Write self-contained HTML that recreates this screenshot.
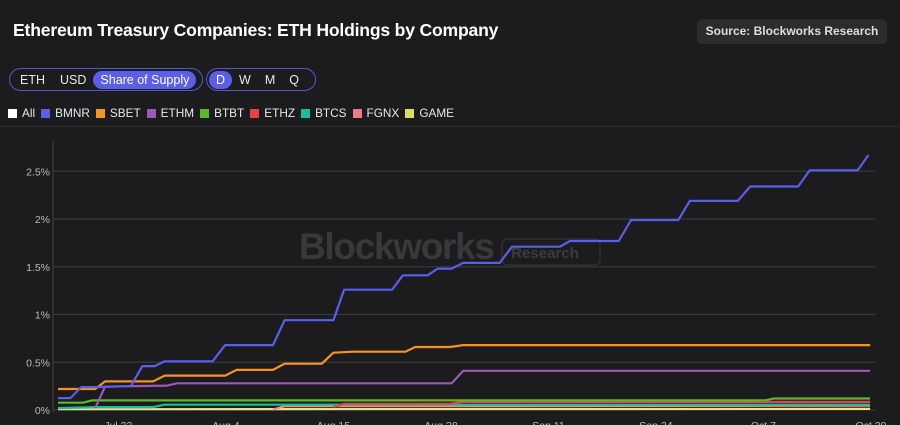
<!DOCTYPE html>
<html><head><meta charset="utf-8"><style>
body{margin:0;width:900px;height:425px;overflow:hidden;background:#1c1c1e;font-family:"Liberation Sans",sans-serif;}
#wrap{position:relative;width:900px;height:425px;}
.title{position:absolute;left:13px;top:20px;color:#fff;font-weight:bold;font-size:17.6px;letter-spacing:-0.2px;white-space:nowrap;}
.src{position:absolute;left:697px;top:19px;width:190px;height:25px;background:#2c2c2f;border-radius:5px;color:#ddd;font-size:12px;font-weight:bold;line-height:25px;text-align:center;white-space:nowrap;}
.grp{position:absolute;top:68px;height:23px;border:1.5px solid #5557c8;border-radius:12px;display:flex;align-items:center;padding:0 2px;box-sizing:border-box;white-space:nowrap;}
.btn{color:#e8e8e8;font-size:12.5px;padding:0 7px;height:18px;line-height:18px;border-radius:10px;white-space:nowrap;}
.btn.on{background:#5b5ee8;color:#fff;}
.legend{position:absolute;left:8px;top:106px;display:flex;font-size:11.8px;color:#e8e8e8;white-space:nowrap;}
.li{display:flex;align-items:center;margin-right:6px;}
.sw{width:9px;height:9px;margin-right:5px;}
.sep{position:absolute;left:0;top:126px;width:900px;height:1px;background:#2c2c2e;}
svg{position:absolute;left:0;top:0;}
</style></head><body><div id="wrap">
<div class="title">Ethereum Treasury Companies: ETH Holdings by Company</div>
<div class="src">Source: Blockworks Research</div>
<div class="grp" style="left:9px;width:194px">
<span class="btn" style="padding:0 8px">ETH</span><span class="btn">USD</span><span class="btn on">Share of Supply</span></div>
<div class="grp" style="left:206px;width:110px">
<span class="btn on">D</span><span class="btn">W</span><span class="btn">M</span><span class="btn">Q</span></div>
<div class="legend">
<div class="li"><span class="sw" style="background:#fff"></span>All</div>
<div class="li"><span class="sw" style="background:#5b5ee8"></span>BMNR</div>
<div class="li"><span class="sw" style="background:#f7931e"></span>SBET</div>
<div class="li"><span class="sw" style="background:#9b59b6"></span>ETHM</div>
<div class="li"><span class="sw" style="background:#5cb82a"></span>BTBT</div>
<div class="li"><span class="sw" style="background:#e8414a"></span>ETHZ</div>
<div class="li"><span class="sw" style="background:#1abc9c"></span>BTCS</div>
<div class="li"><span class="sw" style="background:#f07a8a"></span>FGNX</div>
<div class="li"><span class="sw" style="background:#dede5a"></span>GAME</div>
</div>
<div class="sep"></div>
<svg id="chart" width="900" height="425"></svg>
</div>
<script>
const yTicks=[0,0.5,1,1.5,2,2.5];
const yTickLabels=["0%","0.5%","1%","1.5%","2%","2.5%"];
const xTickDays=[7.3,20.3,33.3,46.3,59.3,72.3,85.3,98.3];
const xTickLabels=["Jul 22","Aug 4","Aug 15","Aug 28","Sep 11","Sep 24","Oct 7","Oct 20"];
const bmnrDays=[0,1.5,2.8,4.5,8.8,10.2,11.7,12.9,18.7,20.2,26,27.4,33.3,34.6,40.4,41.7,44.7,45.9,47.6,49,53.4,54.9,60.7,61.9,67.8,69.3,75,76.4,82.2,83.7,89.5,90.9,96.7,98];
const bmnrVals=[0.125,0.125,0.24,0.24,0.25,0.46,0.46,0.51,0.51,0.68,0.68,0.94,0.94,1.26,1.26,1.41,1.41,1.48,1.48,1.54,1.54,1.71,1.71,1.77,1.77,1.99,1.99,2.19,2.19,2.34,2.34,2.51,2.51,2.67];
const sbetDays=[0,4.5,5.7,11.5,12.9,20.2,21.6,26,27.4,31.9,33.3,35.7,42,43.2,47.4,49,98.2];
const sbetVals=[0.22,0.22,0.30,0.30,0.36,0.36,0.42,0.42,0.485,0.485,0.60,0.61,0.61,0.66,0.66,0.68,0.68];
const ethmDays=[4.5,5.7,13.2,14.4,47.6,49,98.2];
const ethmVals=[0.02,0.245,0.255,0.28,0.28,0.41,0.41];
const btbtDays=[0,3,4.1,85.5,86.5,98.2];
const btbtVals=[0.076,0.076,0.10,0.10,0.12,0.12];
const ethzDays=[33.3,34.6,47.4,49,98.2];
const ethzVals=[0.03,0.065,0.065,0.085,0.085];
const btcsDays=[0,4.5,11.5,12.9,98.2];
const btcsVals=[0.02,0.03,0.03,0.055,0.055];
const fgnxDays=[26,27.4,98.2];
const fgnxVals=[0.005,0.04,0.045];
const gameDays=[0,98.2];
const gameVals=[0.008,0.012];

const NS="http://www.w3.org/2000/svg";
const svg=document.getElementById('chart');
const X0=58,PXD=8.27,Y0=410,PXV=95.5;
const xs=d=>X0+d*PXD, ys=v=>Y0-v*PXV;
function mk(t,a){const e=document.createElementNS(NS,t);for(const k in a)e.setAttribute(k,a[k]);svg.appendChild(e);return e;}
yTicks.forEach((v,i)=>{
 const l=mk('line',{x1:53,x2:875,y1:ys(v),y2:ys(v),stroke:'#38383b','stroke-width':1.3});
 
 
 const t=mk('text',{x:50,y:ys(v)+4,'text-anchor':'end',fill:'#bbb','font-size':10.5,'font-family':'Liberation Sans, sans-serif'});
 t.textContent=yTickLabels[i];
 
 
});
const ax=mk('line',{x1:53,x2:53,y1:141,y2:412,stroke:'#3a3a3d','stroke-width':1.3});


xTickDays.forEach((d,i)=>{
 const t=mk('text',{x:xs(d),y:429,'text-anchor':'middle',fill:'#bbb','font-size':10.5,'font-family':'Liberation Sans, sans-serif'});
 t.textContent=xTickLabels[i];
 
 
});
const wm=mk('text',{x:299,y:259,fill:'#39393c','font-size':37,'font-weight':'bold','letter-spacing':-1.3,'font-family':'Liberation Sans, sans-serif'});
wm.textContent='Blockworks';


const wb=mk('rect',{x:502,y:239,width:98,height:26,rx:5,fill:'none',stroke:'#343437','stroke-width':1.2});


const wt=mk('text',{x:545,y:258,'text-anchor':'middle',fill:'#3c3c3f','font-size':15,'font-weight':'bold','font-family':'Liberation Sans, sans-serif'});
wt.textContent='Research';


const series=[
 ['game',gameDays,gameVals,'#e9e08a'],
 ['fgnx',fgnxDays,fgnxVals,'#f08a80'],
 ['btcs',btcsDays,btcsVals,'#1abc9c'],
 ['ethz',ethzDays,ethzVals,'#e8414a'],
 ['btbt',btbtDays,btbtVals,'#5cb82a'],
 ['ethm',ethmDays,ethmVals,'#9b59b6'],
 ['sbet',sbetDays,sbetVals,'#f7931e'],
 ['bmnr',bmnrDays,bmnrVals,'#5b5ee8']];
series.forEach(s=>{
 const pts=s[1].map((d,i)=>xs(d).toFixed(1)+','+ys(s[2][i]).toFixed(1)).join(' ');
 const p=mk('polyline',{points:pts,fill:'none',stroke:s[3],'stroke-width':2.2,'stroke-linejoin':'round'});
 
 
});
</script></body></html>
